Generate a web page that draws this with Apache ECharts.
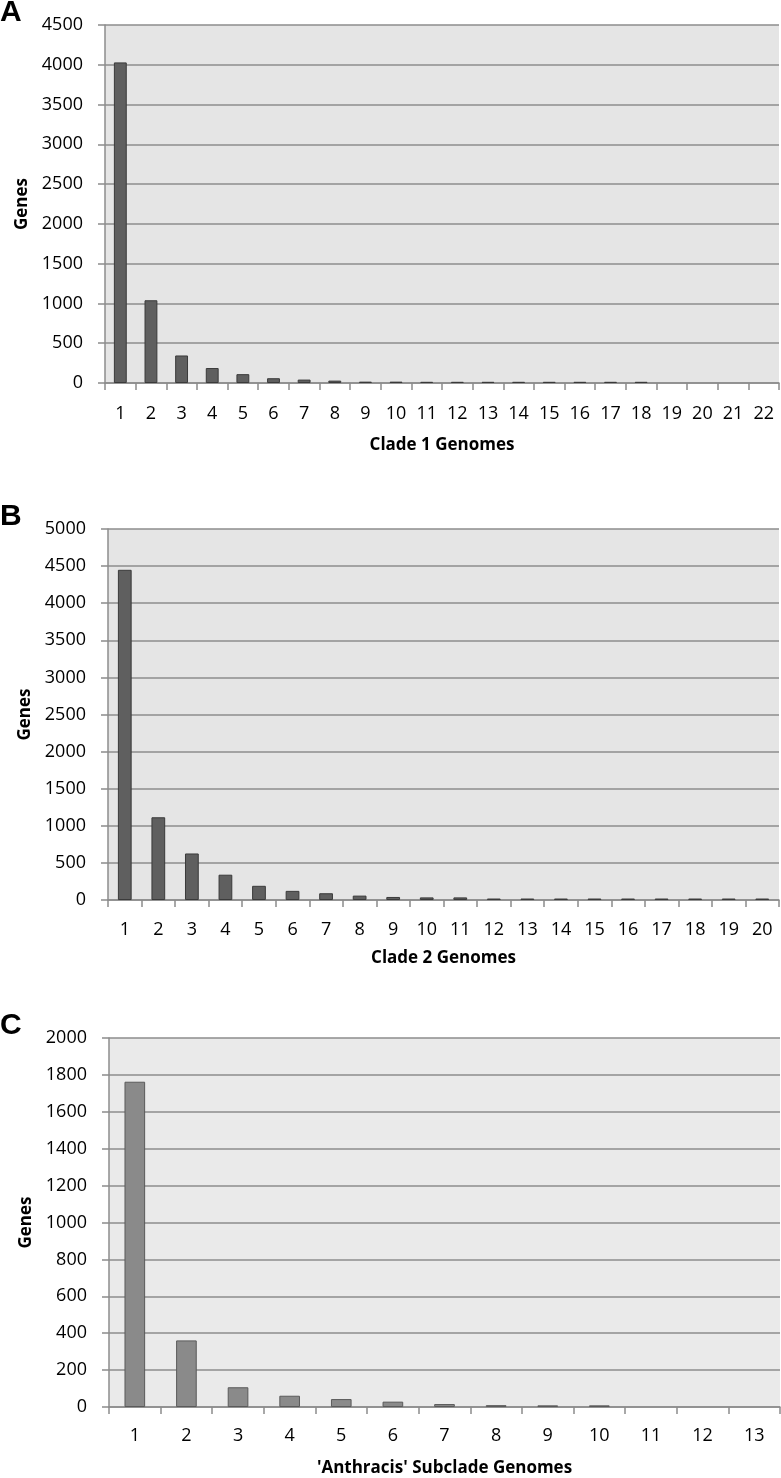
<!DOCTYPE html>
<html>
<head>
<meta charset="utf-8">
<script src="https://cdn.jsdelivr.net/npm/echarts@6/dist/echarts.min.js"></script>
<style>
html,body{margin:0;padding:0;background:#fff;}
#chart{width:781px;height:1478px;}
</style>
</head>
<body>
<div id="chart"></div>
<script>
const clade1Categories = ['1','2','3','4','5','6','7','8','9','10','11','12','13','14','15','16','17','18','19','20','21','22'];
const clade1Genes = [4030, 1040, 346, 188, 111, 60, 43, 30, 17, 17, 15, 15, 15, 15, 15, 15, 15, 15, 0, 0, 0, 0];
const clade1Ticks = { min: 0, max: 4500, interval: 500 };

const clade2Categories = ['1','2','3','4','5','6','7','8','9','10','11','12','13','14','15','16','17','18','19','20'];
const clade2Genes = [4450, 1115, 627, 341, 191, 123, 91, 59, 41, 35, 35, 20, 20, 20, 20, 20, 20, 20, 20, 20];
const clade2Ticks = { min: 0, max: 5000, interval: 500 };

const anthracisCategories = ['1','2','3','4','5','6','7','8','9','10','11','12','13'];
const anthracisGenes = [1763, 361, 107, 61, 43, 29, 16, 10, 9, 9, 0, 0, 0];
const anthracisTicks = { min: 0, max: 2000, interval: 200 };

const panelLetters = ['A', 'B', 'C'];
const xTitles = ['Clade 1 Genomes', 'Clade 2 Genomes', "'Anthracis' Subclade Genomes"];
const yTitle = 'Genes';

const FONT = 'Open Sans';
const gridColor = '#8c8c8c';

const grids = [
  { left: 105, top: 25, right: 2, height: 358, bg: '#e5e5e5' },
  { left: 108, top: 529, right: 2, height: 371, bg: '#e5e5e5' },
  { left: 109, top: 1038, right: 1, height: 371, bg: '#eaeaea' }
];
const cats = [clade1Categories, clade2Categories, anthracisCategories];
const vals = [clade1Genes, clade2Genes, anthracisGenes];
const ticks = [clade1Ticks, clade2Ticks, anthracisTicks];
const barFill = ['#5f5f5f', '#5f5f5f', '#8a8a8a'];
const barBorder = ['#3a3a3a', '#3a3a3a', '#5a5a5a'];
const barWidths = ['42%', '41%', '40%'];
const letterTops = [-2, 502, 1011];
const xNameGaps = [54, 50, 53];
const xLabelMargins = [22, 21, 20];

const option = {
  animation: false,
  backgroundColor: '#ffffff',
  title: panelLetters.map((t, i) => ({
    text: t, left: 0, top: letterTops[i], padding: 0,
    textStyle: { fontFamily: 'Liberation Sans', fontWeight: 'bold', fontSize: 30, color: '#000' }
  })),
  grid: grids.map(g => ({
    left: g.left, top: g.top, right: g.right, height: g.height,
    show: true, backgroundColor: g.bg, borderWidth: 0
  })),
  xAxis: grids.map((g, i) => ({
    type: 'category', gridIndex: i, data: cats[i],
    name: xTitles[i], nameLocation: 'middle', nameGap: xNameGaps[i],
    nameTextStyle: { fontFamily: FONT, fontWeight: 'bold', fontSize: 17, color: '#000' },
    axisLine: { show: true, lineStyle: { color: gridColor, width: 1.5 } },
    axisTick: { show: true, length: 7, lineStyle: { color: gridColor, width: 1.5 } },
    axisLabel: { fontFamily: FONT, fontSize: 18, color: '#000', margin: xLabelMargins[i], interval: 0 },
    splitLine: { show: false }
  })),
  yAxis: grids.map((g, i) => ({
    type: 'value', gridIndex: i, min: ticks[i].min, max: ticks[i].max, interval: ticks[i].interval,
    name: yTitle, nameLocation: 'middle', nameGap: 72, nameRotate: 90,
    nameTextStyle: { fontFamily: FONT, fontWeight: 'bold', fontSize: 17, color: '#000' },
    axisLine: { show: true, lineStyle: { color: gridColor, width: 1.5 } },
    axisTick: { show: true, length: 7, lineStyle: { color: gridColor, width: 1.5 } },
    axisLabel: { fontFamily: FONT, fontSize: 18, color: '#000', margin: 22, formatter: v => String(v) },
    splitLine: { show: true, lineStyle: { color: gridColor, width: 1.5 } }
  })),
  series: grids.map((g, i) => ({
    type: 'bar', xAxisIndex: i, yAxisIndex: i,
    data: vals[i].map(v => (v === 0 ? null : v)),
    barWidth: barWidths[i],
    itemStyle: { color: barFill[i], borderColor: barBorder[i], borderWidth: 1 }
  }))
};

const chart = echarts.init(document.getElementById('chart'), null, { renderer: 'canvas' });
chart.setOption(option);
</script>
</body>
</html>
